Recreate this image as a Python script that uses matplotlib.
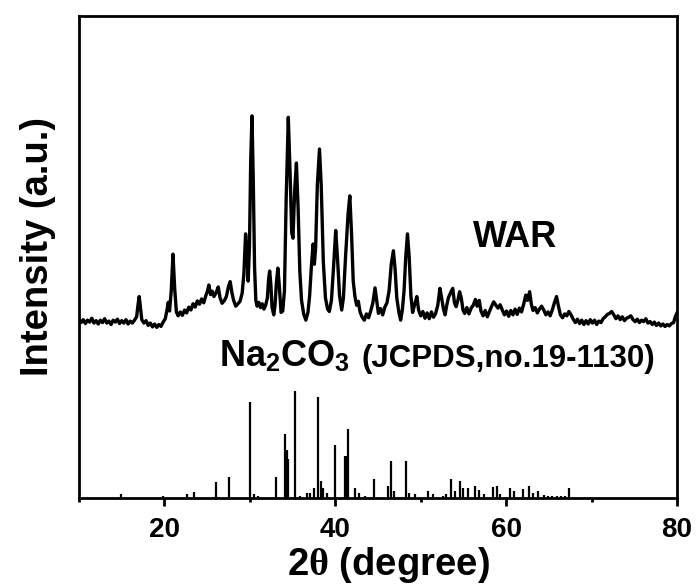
import matplotlib
matplotlib.use("Agg")
import matplotlib.pyplot as plt
from matplotlib.ticker import MultipleLocator

plt.rcParams['font.family'] = ['Liberation Sans', 'DejaVu Sans']
plt.rcParams['font.weight'] = 'bold'
plt.rcParams['mathtext.fontset'] = 'custom'
plt.rcParams['mathtext.rm'] = 'Liberation Sans:bold'
plt.rcParams['mathtext.bf'] = 'Liberation Sans:bold'
plt.rcParams['mathtext.it'] = 'Liberation Serif'

# WAR sample pattern (2theta, intensity in a.u. incl. offset)
war_theta = [
    10.00, 10.25, 10.50, 10.75, 11.00, 11.25, 11.50, 11.75, 12.00, 12.25,
    12.50, 12.75, 13.00, 13.25, 13.50, 13.75, 14.00, 14.25, 14.50, 14.75,
    15.00, 15.25, 15.50, 15.75, 16.00, 16.25, 16.50, 16.75, 16.90, 17.05,
    17.20, 17.35, 17.60, 17.85, 18.10, 18.35, 18.60, 18.85, 19.10, 19.35,
    19.60, 19.85, 20.10, 20.30, 20.45, 20.60, 20.80, 21.00, 21.20, 21.40,
    21.60, 21.85, 22.10, 22.35, 22.60, 22.85, 23.10, 23.35, 23.60, 23.85,
    24.10, 24.35, 24.60, 24.85, 25.05, 25.20, 25.40, 25.60, 25.80, 26.05,
    26.30, 26.50, 26.75, 27.00, 27.25, 27.50, 27.70, 27.90, 28.10, 28.35,
    28.60, 28.85, 29.10, 29.30, 29.50, 29.65, 29.80, 29.95, 30.10, 30.25,
    30.40, 30.55, 30.70, 30.85, 31.05, 31.25, 31.45, 31.65, 31.85, 32.05,
    32.20, 32.32, 32.45, 32.60, 32.80, 32.95, 33.10, 33.28, 33.45, 33.65,
    33.85, 34.05, 34.25, 34.50, 34.70, 34.90, 35.05, 35.25, 35.45, 35.65,
    35.85, 36.05, 36.30, 36.55, 36.80, 37.00, 37.20, 37.40, 37.55, 37.70,
    37.90, 38.15, 38.35, 38.60, 38.85, 39.10, 39.30, 39.55, 39.80, 40.05,
    40.25, 40.50, 40.75, 40.95, 41.20, 41.35, 41.50, 41.70, 41.90, 42.10,
    42.30, 42.50, 42.70, 42.90, 43.15, 43.40, 43.65, 43.90, 44.15, 44.40,
    44.65, 44.85, 45.05, 45.30, 45.55, 45.80, 46.05, 46.30, 46.55, 46.80,
    47.00, 47.20, 47.45, 47.65, 47.85, 48.05, 48.25, 48.45, 48.65, 48.85,
    49.05, 49.30, 49.55, 49.75, 50.00, 50.25, 50.50, 50.75, 51.00, 51.25,
    51.50, 51.75, 52.00, 52.25, 52.45, 52.65, 52.85, 53.05, 53.25, 53.50,
    53.75, 53.95, 54.15, 54.35, 54.55, 54.75, 54.95, 55.15, 55.40, 55.65,
    55.90, 56.15, 56.40, 56.60, 56.85, 57.05, 57.30, 57.55, 57.80, 58.05,
    58.30, 58.55, 58.80, 59.05, 59.30, 59.55, 59.80, 60.05, 60.30, 60.55,
    60.80, 61.05, 61.30, 61.55, 61.80, 62.05, 62.30, 62.50, 62.75, 62.95,
    63.15, 63.40, 63.65, 63.90, 64.15, 64.40, 64.65, 64.90, 65.15, 65.40,
    65.65, 65.90, 66.10, 66.35, 66.60, 66.85, 67.10, 67.35, 67.60, 67.85,
    68.10, 68.35, 68.60, 68.85, 69.10, 69.35, 69.60, 69.85, 70.10, 70.35,
    70.60, 70.85, 71.10, 71.35, 71.60, 71.85, 72.10, 72.35, 72.60, 72.85,
    73.10, 73.35, 73.60, 73.85, 74.10, 74.35, 74.60, 74.85, 75.10, 75.35,
    75.60, 75.85, 76.10, 76.35, 76.60, 76.85, 77.10, 77.35, 77.60, 77.85,
    78.10, 78.35, 78.60, 78.85, 79.10, 79.35, 79.60, 79.80, 80.00,
]
war_int = [
    37.2, 36.4, 37.0, 36.2, 36.9, 36.5, 37.3, 36.3, 36.8, 36.1,
    36.9, 36.4, 37.2, 36.3, 36.7, 36.0, 36.9, 36.5, 37.1, 36.2,
    36.8, 36.3, 37.0, 36.1, 36.7, 36.3, 36.9, 37.6, 40.0, 41.8,
    39.5, 37.0, 36.3, 36.8, 35.8, 36.3, 35.5, 36.1, 35.4, 36.0,
    35.6, 36.5, 37.2, 39.0, 40.6, 38.8, 43.0, 50.6, 43.5, 38.6,
    37.8, 38.6, 37.9, 39.0, 38.4, 39.6, 39.0, 40.3, 39.6, 40.9,
    40.2, 41.3, 40.5, 42.0, 43.0, 44.2, 42.2, 42.9, 41.8, 42.6,
    43.8, 41.6, 40.4, 40.9, 41.8, 43.9, 44.9, 42.6, 41.0, 39.8,
    40.3, 40.8, 42.5, 46.5, 54.8, 51.5, 45.0, 52.0, 70.0, 79.3,
    66.0, 48.0, 41.0, 39.8, 40.6, 39.5, 40.3, 39.2, 40.0, 41.5,
    45.5, 47.1, 44.5, 39.5, 38.0, 40.0, 44.5, 47.7, 44.0, 38.5,
    38.8, 43.0, 62.0, 79.0, 68.0, 55.0, 53.9, 64.0, 69.5, 60.0,
    47.0, 41.0, 38.2, 36.9, 38.5, 42.0, 48.0, 52.7, 48.5, 52.0,
    65.0, 72.4, 65.0, 49.0, 41.5, 39.2, 38.7, 41.0, 48.0, 55.5,
    50.0, 42.0, 39.0, 41.5, 50.0, 54.5, 59.0, 62.7, 55.0, 45.0,
    41.8, 40.0, 40.8, 38.6, 37.5, 36.9, 38.2, 37.4, 38.8, 40.5,
    43.6, 41.0, 38.3, 39.3, 38.0, 39.6, 40.5, 43.0, 48.5, 51.3,
    47.5, 41.5, 38.5, 36.9, 39.0, 43.0, 50.0, 54.8, 50.0, 42.0,
    38.5, 40.2, 41.8, 39.0, 37.8, 38.7, 37.3, 38.4, 37.2, 38.6,
    37.5, 38.3, 40.0, 43.5, 41.5, 39.3, 38.0, 40.0, 41.6, 42.6,
    43.5, 40.5, 39.7, 41.0, 42.8, 41.5, 39.0, 38.3, 39.5, 38.2,
    39.4, 40.0, 41.2, 39.8, 41.0, 38.8, 37.8, 38.9, 37.6, 38.7,
    39.8, 40.7, 40.0, 39.4, 40.1, 39.0, 38.0, 38.8, 37.7, 38.9,
    38.0, 39.2, 38.1, 39.4, 38.6, 40.2, 42.1, 41.0, 42.8, 40.2,
    38.9, 39.5, 38.4, 39.2, 39.8, 39.0, 38.0, 38.6, 37.8, 39.0,
    40.5, 41.8, 40.0, 38.0, 37.4, 38.2, 37.8, 38.7, 38.0, 37.1,
    36.4, 37.1, 36.2, 36.9, 36.0, 36.8, 36.1, 37.0, 36.3, 36.9,
    36.0, 36.7, 36.4, 37.2, 37.6, 38.1, 38.3, 38.7, 38.0, 37.2,
    37.8, 37.0, 37.6, 36.8, 37.3, 37.5, 37.8, 37.0, 36.6, 37.1,
    36.4, 36.9, 36.6, 37.2, 36.3, 36.6, 36.0, 36.5, 35.8, 36.3,
    35.7, 36.1, 35.6, 36.0, 35.7, 36.2, 36.4, 37.6, 38.4,
]

# Na2CO3 reference lines (JCPDS 19-1130)
ref_theta = [14.95, 19.8, 22.7, 23.5, 26.0, 27.6, 30.0, 30.5, 31.0, 33.1,
             34.1, 34.3, 34.5, 35.3, 35.9, 36.7, 37.0, 37.5, 38.0, 38.3,
             38.6, 39.0, 40.0, 41.1, 41.3, 41.5, 42.3, 42.8, 43.5, 44.5,
             46.2, 46.5, 46.9, 48.3, 48.6, 49.3, 50.9, 51.4, 52.6, 53.0,
             53.6, 54.0, 54.6, 54.9, 55.5, 56.3, 56.8, 57.4, 58.5, 58.9,
             59.3, 60.4, 60.9, 62.0, 62.7, 63.2, 63.7, 64.4, 64.9, 65.4,
             65.9, 66.4, 66.9, 67.4]
ref_int = [0.8, 0.5, 0.8, 1.2, 3.4, 4.3, 20.0, 0.8, 0.5, 4.3,
           13.3, 10.0, 8.0, 22.1, 0.5, 1.0, 1.0, 2.0, 21.0, 3.5,
           2.0, 1.0, 11.0, 8.7, 8.7, 14.3, 2.0, 1.0, 0.5, 3.9,
           2.5, 7.7, 1.5, 7.7, 1.0, 0.8, 1.5, 0.8, 0.5, 0.8,
           3.9, 1.5, 3.5, 2.0, 2.0, 2.5, 1.7, 0.8, 2.2, 2.4,
           0.8, 2.0, 1.5, 1.8, 2.4, 1.0, 1.5, 0.6, 0.5, 0.5,
           0.5, 0.5, 0.5, 2.0]

fig = plt.figure(figsize=(6.96, 5.87), dpi=100)
ax = fig.add_axes([0.1135, 0.1516, 0.8592, 0.8211])

ax.plot(war_theta, war_int, color='black', lw=2.4)
ax.vlines(ref_theta, 0, ref_int, color='black', lw=1.6)

ax.set_xlim(10, 80)
ax.set_ylim(0, 100)
ax.xaxis.set_major_locator(MultipleLocator(20))
ax.xaxis.set_minor_locator(MultipleLocator(10))
ax.set_yticks([])
ax.tick_params(axis='x', which='major', direction='out', length=6, width=2,
               labelsize=20, pad=8)
ax.tick_params(axis='x', which='minor', direction='out', length=3, width=2)
for s in ax.spines.values():
    s.set_linewidth(2)

ax.set_xlabel('2$\\theta$ (degree)', fontsize=27.5, fontweight='bold', va='center')
ax.xaxis.set_label_coords(0.518, -0.138)
ax.set_ylabel('Intensity (a.u.)', fontsize=27.5, fontweight='bold', va='center')
ax.yaxis.set_label_coords(-0.069, 0.522)

ax.text(61.1, 54.1, 'WAR', fontsize=26, fontweight='bold', ha='center', va='center')
ax.text(26.4, 27.2, 'Na$_2$CO$_3$', fontsize=26, fontweight='bold', ha='left', va='baseline')
ax.text(43.1, 27.2, '(JCPDS,no.19-1130)', fontsize=22.5, fontweight='bold',
        ha='left', va='baseline')

fig.savefig('out.png', dpi=100)
